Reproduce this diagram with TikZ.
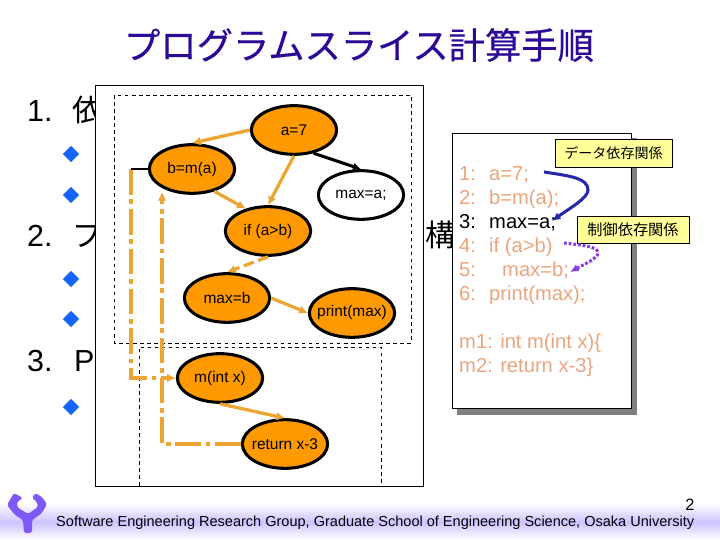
\documentclass[tikz,border=0pt]{standalone}
\usepackage{fontspec}
\setmainfont{Liberation Sans}
\newfontfamily\jpfont{Noto Sans CJK JP}
\newfontfamily\jptitle[FakeBold=0.5]{Noto Sans CJK JP}
\usetikzlibrary{arrows.meta,calc,positioning,shapes.geometric}
\definecolor{titleblue}{RGB}{45,10,150}
\definecolor{bulletblue}{RGB}{20,100,250}
\definecolor{vertexorange}{RGB}{255,153,0}
\definecolor{edgeorange}{RGB}{235,165,50}
\definecolor{codefaded}{RGB}{235,165,125}
\definecolor{shadowgray}{RGB}{128,128,128}
\definecolor{notelabel}{RGB}{255,255,153}
\definecolor{dataarrow}{RGB}{40,40,170}
\definecolor{ctrlarrow}{RGB}{135,60,225}
\definecolor{crest}{RGB}{125,90,245}
\definecolor{band}{RGB}{205,195,255}

\tikzset{
  vertex/.style={ellipse, draw=black, line width=2.6pt, fill=vertexorange,
    minimum width=2.56cm, minimum height=1.46cm, inner ysep=0pt, inner xsep=-0.25cm,
    font=\fontsize{13.2}{15}\selectfont},
  datadep/.style={edgeorange, line width=2.8pt, -{Latex[length=2.6mm,width=2.6mm]}},
  ctrldep/.style={datadep, dash pattern=on 9pt off 4pt},
  calldep/.style={datadep, line width=3.2pt, dash pattern=on 22pt off 4pt on 4pt off 4pt},
  pagetext/.style={anchor=base west, inner sep=0pt, font=\fontsize{26}{30}\selectfont},
  codeline/.style={anchor=base west, inner sep=0pt, codefaded, font=\fontsize{17.2}{19}\selectfont},
  notebox/.style={draw=black, line width=0.8pt, fill=notelabel, inner sep=0pt, font=\jpfont\fontsize{12}{14}\selectfont},
  bulletmark/.style={diamond, fill=bulletblue, minimum size=0.5cm, inner sep=0pt}
}

\begin{document}
\begin{tikzpicture}[x=0.03cm, y=-0.03cm, >=Latex]
\useasboundingbox (0,0) rectangle (720,540);

% ===== FOOTER BAND =====
\shade[top color=white, bottom color=band] (0,503) rectangle (720,522);
\shade[top color=band, bottom color=white] (0,522) rectangle (720,540);

% Crest at the left of the band
\fill[crest, rounded corners=1.5pt]
  (14,493) -- (7,505) -- (15,515) -- (23,520) -- (24,533) -- (32,533) -- (32,520)
  -- (42,513) -- (47,504) -- (42,497) -- (35,493) -- (32,498) -- (37,502) -- (38,507)
  -- (28,514) -- (17,507) -- (17,502) -- (23,498) -- cycle;

\node[anchor=base west, inner sep=0pt, font=\fontsize{12.4}{14}\selectfont] (footer) at (56,526)
  {Software Engineering Research Group, Graduate School of Engineering Science, Osaka University};
\node[anchor=base, inner sep=0pt, font=\fontsize{14}{16}\selectfont] (pagenum) at (690,510) {2};

% ===== SLIDE TEXT (mostly covered further down) =====
\node[font=\jptitle\fontsize{31}{34}\selectfont, text=titleblue, inner sep=0pt] (title) at (359,45)
  {プログラムスライス計算手順};

\node[pagetext] (itemA) at (27,122) {1.};
\node[pagetext, font=\jpfont\fontsize{26}{30}\selectfont] (itemAtext) at (72,122) {依};
\node[pagetext] (itemB) at (27,247) {2.};
\node[pagetext, font=\jpfont\fontsize{26}{30}\selectfont] (itemBtext) at (72,247) {プ};
\node[pagetext] (itemC) at (27,372) {3.};
\node[pagetext] (itemCtext) at (74,372) {P};
\node[pagetext, font=\jpfont\fontsize{26}{30}\selectfont] (itemBend) at (425,247) {構};

\node[bulletmark] (bulletA) at (71,154) {};
\node[bulletmark] (bulletB) at (71,195) {};
\node[bulletmark] (bulletC) at (71,279) {};
\node[bulletmark] (bulletD) at (71,319) {};
\node[bulletmark] (bulletE) at (71,407) {};

% ===== DEPENDENCE GRAPH PANEL =====
\draw[black, fill=white, line width=0.8pt] (95,85) rectangle (423,486);
\draw[black, dashed, line width=0.6pt] (114,95) rectangle (411,343);
\draw[black, dashed, line width=0.6pt] (139,486) -- (139,347) -- (381,347) -- (381,486);

\node[vertex] (assign) at (294,130) {a=7};
\node[vertex] (callb) at (192,169) {b=m(a)};
\node[vertex, fill=white] (maxa) at (361,195) {max=a;};
\node[vertex] (cond) at (268,231) {if (a>b)};
\node[vertex] (maxb) at (227,298) {max=b};
\node[vertex] (output) at (352,313) {print(max)};
\node[vertex] (entry) at (220,378) {m(int x)};
\node[vertex] (ret) at (285,444) {return x-3};

% Corner points of the two call lines
\coordinate (callout) at (131,169);
\coordinate (callin) at (131,378);
\coordinate (retdown) at (162,444);
\coordinate (retup) at (162,192);

% Inside the procedures
\draw[datadep] (assign.west) -- (callb.north);
\draw[datadep] (assign.south) -- (cond.north);
\draw[datadep] (callb.-45) -- (cond.135);
\draw[ctrldep] (cond.south) -- (maxb.north);
\draw[datadep] (maxb.east) -- (output.west);
\draw[datadep] (entry.south) -- (ret.north);
\draw[black, line width=2.6pt, -{Latex[length=2.4mm,width=2.4mm]}] (assign.-50) -- (maxa.north);

% Between the procedures
\draw[calldep] (callout) -- ++(0,8) |- (callin) -- (entry.west);
\draw[black, line width=2pt] (callb.west) -- (callout);
\draw[calldep] (ret.west) -- (retdown) -- (retup);

% ===== SOURCE PANEL =====
\fill[shadowgray] (457,138) rectangle (637,415);
\draw[black, fill=white, line width=0.8pt] (452,133) rectangle (631,408);

\node[codeline] (numA) at (459,181) {1:};
\node[codeline] (lineA) at (489,181) {a=7;};
\node[codeline] (numB) at (459,205) {2:};
\node[codeline] (lineB) at (489,205) {b=m(a);};
\node[codeline, text=black] (numC) at (459,229) {3:};
\node[codeline, text=black] (lineC) at (489,229) {max=a;};
\node[codeline] (numD) at (459,253) {4:};
\node[codeline] (lineD) at (489,253) {if (a>b)};
\node[codeline] (numE) at (459,277) {5:};
\node[codeline] (lineE) at (502,277) {max=b;};
\node[codeline] (numF) at (459,301) {6:};
\node[codeline] (lineF) at (489,301) {print(max);};
\node[codeline] (lineM) at (459,349) {m1: int m(int x)\{};
\node[codeline] (lineN) at (459,373) {m2: return x-3\}};

% Notes and their arrows
\node[notebox, minimum width=3.51cm, minimum height=0.84cm] (datanote) at (613.5,153) {データ依存関係};
\node[notebox, minimum width=3.36cm, minimum height=0.81cm, font=\jpfont\fontsize{13}{15}\selectfont]
  (ctrlnote) at (633,229.5) {制御依存関係};

\coordinate (datafrom) at (544,172);
\coordinate (dataend) at (552,221);
\coordinate (ctrlfrom) at (564,243);
\coordinate (ctrlend) at (570,272);
\draw[dataarrow, line width=2.6pt, -{Latex[length=2.6mm,width=2.4mm]}]
  (datafrom) .. controls (570,176) and (588,178) .. (588,190) .. controls (588,198) and (570,208) .. (dataend);
\draw[ctrlarrow, line width=2.6pt, dash pattern=on 2.4pt off 1.6pt, -{Latex[length=2.6mm,width=2.4mm]}]
  (ctrlfrom) .. controls (580,245) and (598,246) .. (598,253) .. controls (598,258) and (585,264) .. (ctrlend);

\end{tikzpicture}
\end{document}
